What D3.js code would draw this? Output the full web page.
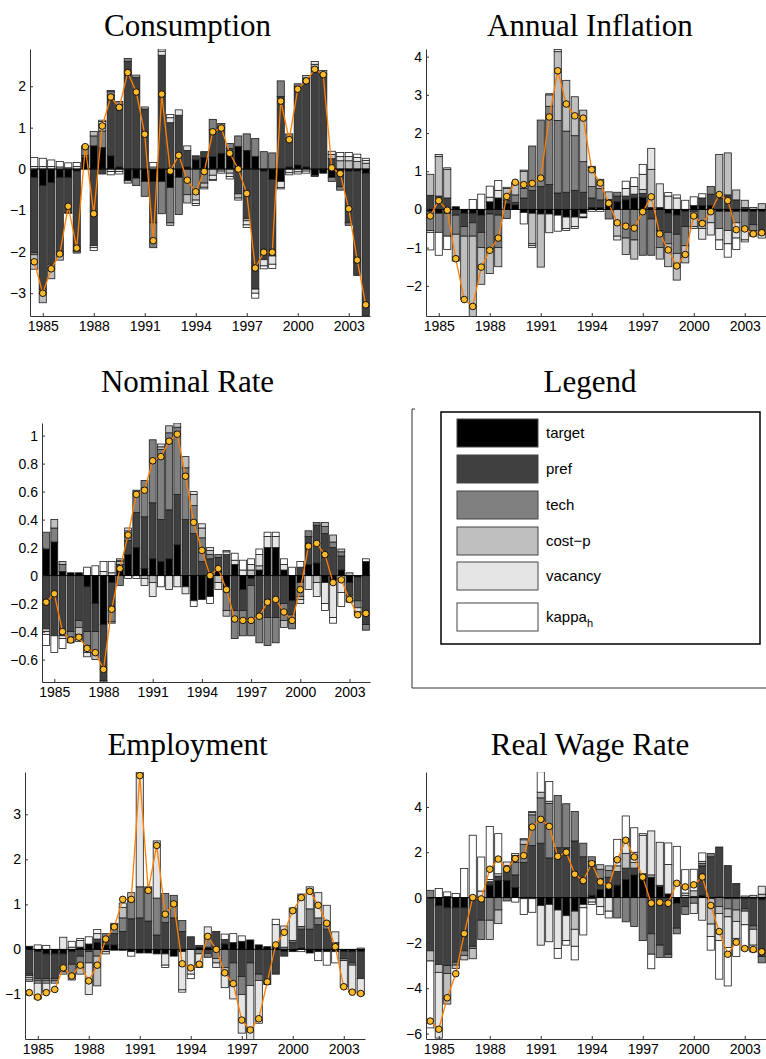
<!DOCTYPE html>
<html>
<head>
<meta charset="utf-8">
<script src="https://cdn.jsdelivr.net/npm/d3@7"></script>
<style>
body { margin: 0; background: #fff; }
svg { display: block; }
</style>
</head>
<body>
<svg id="fig" width="766" height="1059"></svg>
<script>
// semiannual dates, 1984:2 .. 2004:1
const dates = [1984.5, 1985, 1985.5, 1986, 1986.5, 1987, 1987.5, 1988, 1988.5, 1989,
               1989.5, 1990, 1990.5, 1991, 1991.5, 1992, 1992.5, 1993, 1993.5, 1994,
               1994.5, 1995, 1995.5, 1996, 1996.5, 1997, 1997.5, 1998, 1998.5, 1999,
               1999.5, 2000, 2000.5, 2001, 2001.5, 2002, 2002.5, 2003, 2003.5, 2004];
const yearTicks = [1985, 1988, 1991, 1994, 1997, 2000, 2003];
const shockNames = ["target", "pref", "tech", "cost\u2212p", "vacancy", "kappa"];
const shockColors = ["#000000", "#404040", "#808080", "#bfbfbf", "#e5e5e5", "#ffffff"];

// Consumption
const consTarget = [-.2,-.4,-.33,-.2,-.2,-.05,.28,.56,.52,.32,.05,-.28,-.22,-.3,-.3,-.3,-.45,-.2,.05,.22,.28,.3,.38,.35,.55,.45,.3,-.05,-.25,-.3,.05,.1,.05,-.15,-.1,-.2,-.05,-.05,-.05,-.1];
const consPref   = [-1.82,-2.5,-1.97,-1.8,-.85,-1.93,.05,-1.85,-.12,1.45,1.5,2.6,2.22,1.45,-1.0,2.75,1.12,1.3,.4,.1,.14,.65,.62,.15,-.6,-1.2,-2.9,-2.14,-1.85,1.75,.7,1.9,2.15,2.45,2.3,.25,-.38,-1.25,-2.52,-3.44];
const consTech   = [-.05,-.1,-.1,-.05,-.02,-.05,.2,.24,.4,.1,.08,.07,-.18,-.36,-.6,-.78,-.85,-.9,-.62,-.6,-.34,.25,.1,.12,.25,.4,.44,.42,.39,.38,.1,.06,0,-.03,0,-.1,-.08,-.06,0,0];
const consCost   = [-.35,-.23,-.25,-.15,0,0,.03,.11,.15,.03,0,-.06,.05,.05,0,0,-.06,0,-.2,-.15,-.1,-.15,-.05,-.1,-.1,-.05,0,0,0,0,0,0,.06,.08,.08,.1,.2,.2,.18,.14];
const consVac    = [.06,.06,.06,.05,.03,.06,0,-.05,.08,-.06,-.06,0,0,0,.05,.1,.12,.13,.11,-.08,-.04,-.1,-.05,-.08,-.05,-.1,-.1,-.15,-.2,-.15,-.09,-.07,-.05,.07,0,.08,.1,.1,.1,.07];
const consKappa  = [.22,.2,.16,.13,.12,.1,0,-.07,.03,-.08,-.06,0,0,0,.11,.05,.08,0,0,-.05,0,-.03,0,-.06,0,-.06,-.12,-.07,-.1,-.03,-.05,-.05,-.05,0,0,0,.1,.1,.08,.05];
const consLine   = [-2.24,-3.0,-2.41,-2.05,-.9,-1.91,.54,-1.08,1.04,1.74,1.49,2.33,1.86,.84,-1.73,1.81,-.05,.33,-.27,-.55,-.06,.9,.99,.38,0,-.59,-2.39,-2.01,-2.01,1.64,.71,1.93,2.13,2.41,2.28,.03,-.11,-.96,-2.2,-3.28];

// Annual Inflation
const inflTarget = [-.05,-.1,-.1,.07,-.1,-.1,-.15,.2,.3,.15,.12,-.08,-.1,-.12,-.12,-.15,-.2,-.2,-.1,.05,.05,.15,.2,.25,.3,.32,.05,.05,-.1,-.15,-.05,.1,.1,.1,-.05,-.05,-.05,-.05,-.05,-.05];
const inflPref   = [.37,.35,.3,-.15,-.35,-.25,-.45,-.12,-.15,.1,.06,.3,.5,.6,.65,.43,.45,.5,.45,.25,.2,.11,.15,.1,.1,.1,-.25,-.55,-.5,-.5,-.4,-.05,.2,.3,.3,.38,.25,.05,-.35,-.6];
const inflTech   = [-.5,-.5,-.6,-.5,-.25,-.35,-.4,-.9,-.85,-.24,.2,.25,1.16,1.74,2.05,1.9,1.6,1.43,.8,.3,.3,-.25,.1,-.75,-.8,-1.2,-.95,-.45,-.3,-.5,-.5,-.15,-.3,.2,-.45,-.5,-.3,-.5,-.15,0];
const inflCost   = [.55,1.04,.75,-.7,-1.65,-2.1,-.96,-.66,-.5,.3,.33,.45,-.8,-1.39,.3,1.8,1.33,1.02,1.35,.5,.24,.2,-.7,-.43,-.5,.1,1.0,-.3,-.6,-.7,-.45,-.25,-.2,-.35,1.14,1.1,.26,.19,.05,.15];
const inflVac    = [-.05,.05,.04,0,0,0,0,.12,.2,.03,0,.03,-.05,0,-.49,.06,-.3,-.25,-.1,.03,0,0,-.1,.2,.2,.4,.55,.62,.35,.3,0,-.05,-.28,-.32,-.3,-.35,-.4,-.25,-.15,-.1];
const inflKappa  = [-.46,-.6,-.35,0,0,.26,.4,.29,.26,0,0,-.3,-.05,0,.03,-.42,-.05,-.05,-.02,-.05,-.05,0,0,.19,.23,.26,0,0,.09,.08,.24,.23,.11,0,-.25,-.35,-.3,-.05,0,0];
const inflLine   = [-.17,.23,-.02,-1.29,-2.36,-2.54,-1.51,-1.07,-.75,.34,.71,.65,.68,.82,2.42,3.63,2.76,2.45,2.39,1.04,.69,.16,-.35,-.44,-.49,-.06,.33,-.64,-1.06,-1.48,-1.18,-.17,-.37,-.06,.39,.23,-.53,-.51,-.64,-.61];

// Nominal Rate
const rateTarget = [.19,.24,.03,.02,.02,-.08,-.2,-.35,-.05,.05,.15,.2,.05,.12,.1,.12,.22,-.08,-.18,-.17,-.15,.03,-.1,.08,-.1,-.02,.04,.2,.2,.04,-.18,-.05,.08,.09,-.05,-.05,.04,-.05,-.01,.1];
const ratePref   = [-.38,-.43,-.43,-.4,-.32,-.32,-.2,-.4,-.2,.03,.1,.25,.37,.4,.3,.35,.36,.4,.3,.1,.12,.1,.15,-.25,-.15,-.05,-.3,-.3,-.3,-.2,-.1,.06,.2,.27,.3,.2,.1,-.09,-.17,-.35];
const rateTech   = [.12,.1,.05,-.04,-.05,-.1,-.15,-.02,-.08,-.07,.05,.16,.26,.45,.5,.55,.48,.37,.2,.17,.03,.02,-.15,-.2,-.18,-.36,-.18,-.2,-.18,-.12,-.1,-.1,.04,.02,.05,.04,.03,-.04,-.05,-.04];
const rateCost   = [-.02,.06,.02,-.04,-.05,-.05,-.05,0,-.01,.02,.02,0,-.02,-.05,.02,.05,.03,.08,.08,.07,.03,-.05,-.04,0,0,.04,.03,0,0,-.05,0,-.02,0,-.05,.03,.05,.02,.02,0,0];
const rateVac    = [-.02,0,-.02,0,-.05,-.03,0,.03,.02,.01,.02,0,-.05,-.1,.02,-.1,-.08,-.05,.02,.03,.02,-.05,.02,.03,.04,.04,.08,.08,.08,.04,0,-.03,-.1,-.1,-.15,-.25,-.12,-.01,-.03,0];
const rateKappa  = [-.08,-.12,-.07,0,0,.06,.07,.07,.08,.01,-.02,-.02,0,0,-.08,0,0,0,-.04,0,-.05,0,.01,.05,.07,.04,.04,.03,.03,.04,.06,.04,0,0,-.05,-.04,-.1,0,-.02,.02];
const rateLine   = [-.19,-.13,-.4,-.46,-.44,-.52,-.55,-.67,-.24,.05,.29,.58,.61,.82,.85,.96,1.01,.71,.38,.18,0,.05,-.1,-.31,-.32,-.32,-.29,-.19,-.17,-.26,-.32,-.1,.21,.23,.15,-.05,-.03,-.17,-.28,-.27];

// Employment
const emplTarget = [.07,-.05,-.1,-.1,-.1,-.05,.05,.12,.15,.1,.1,-.02,-.05,-.08,-.08,-.1,-.1,-.15,-.05,0,.05,.05,.05,.12,.15,.18,.21,.1,.06,.05,-.05,-.05,.03,-.08,-.05,-.05,-.05,-.05,-.05,-.05];
const emplPref   = [-.55,-.6,-.55,-.55,-.3,-.28,-.15,-.05,.08,.1,.25,.4,.68,.7,.63,.32,.6,.7,.4,.28,.04,-.1,.35,.1,-.3,-.6,-.3,-.55,-.78,-.55,-.1,.15,.42,.45,.55,.45,.12,-.15,-.25,-.6];
const emplTech   = [-.03,-.05,-.05,-.05,-.1,-.25,-.25,-.25,-.15,.15,.15,.3,.4,.69,.76,.82,.64,.5,.24,0,-.1,.25,-.2,-.4,-.5,-.4,-.5,-.14,0,0,.05,.05,.06,.45,.15,.15,.03,-.05,-.05,0];
const emplCost   = [-.05,-.05,-.05,-.05,-.05,-.1,-.15,0,-.66,-.05,.05,.23,.18,0,0,0,0,0,0,0,0,-.05,-.1,-.15,0,0,0,0,0,0,0,0,0,0,0,0,0,0,0,.03];
const emplVac    = [-.05,-.35,-.2,0,.27,.05,.15,-.7,.12,-.05,.03,.1,0,2.55,0,1.27,-.25,0,-.85,-.55,-.3,.2,-.1,-.3,-.3,-.86,-1.3,-.95,0,.5,.47,.72,.72,.49,.56,.38,.24,-.58,-.6,-.36];
const emplKappa  = [-.03,.1,.09,0,0,.13,.04,.16,.09,0,-.02,0,-.1,0,0,0,-.05,0,-.05,-.1,0,-.03,0,.12,.2,.12,0,0,0,.12,0,0,-.05,0,-.2,-.3,-.25,0,0,0];
const emplLine   = [-.96,-1.06,-.96,-.89,-.41,-.59,-.35,-.7,-.35,.23,.5,1.11,1.11,3.86,1.31,2.31,.78,1.01,-.32,-.41,-.33,.29,0,-.52,-.76,-1.57,-1.79,-1.54,-.72,.1,.38,.86,1.15,1.29,.98,.58,.06,-.83,-.95,-.98];

// Real Wage Rate
const wageTarget = [-.05,-.35,-.45,-.45,-.45,-.05,0,.55,.75,.75,.45,-.05,-.05,-.35,-.3,-.55,-.8,-.6,-.3,.1,.35,.5,.55,.8,1.0,.95,.9,.5,.16,-.25,0,.05,.1,-.05,.03,-.05,-.05,-.05,-.05,-.1];
const wagePref   = [-2.3,-2.6,-2.55,-2.4,-1.9,-2.1,-1.0,.15,.2,.5,.55,1.55,2.3,2.4,1.75,2.2,2.2,2.5,1.8,1.5,.5,.4,.6,.5,.3,.1,-1.6,-2.1,-2.5,-1.1,-.4,0,1.3,1.8,2.2,1.41,.62,-.45,-1.2,-2.5];
const wageTech   = [.32,0,-.35,-.13,-.2,-.1,-.85,-1.0,-.55,-.15,.55,.8,1.35,2.0,2.4,2.3,1.94,1.3,.6,.2,.4,.3,-.9,-1.07,-1.28,-1.9,-.9,-.55,-.15,-.25,-.35,-.25,.1,.14,-.4,-.45,-.5,-.1,-.15,-.28];
const wageCost   = [-.45,-.35,-1.35,-.15,-.2,-.45,0,-.85,-.6,.17,.3,.2,.1,.25,.1,0,0,-.8,0,-.05,.2,.2,.25,.65,.25,0,.1,.04,0,0,.1,.25,.1,-1.12,-.3,-.35,-.5,.07,.1,.15];
const wageVac    = [0,-2.9,.05,0,0,0,.29,.1,.1,.15,.09,.05,.05,-1.75,-1.65,-1.7,-1.1,-.75,-.15,-.15,-.4,-.6,.3,.6,.45,1.7,1.94,1.9,1.3,0,.1,-.45,-1.0,-.55,-1.2,-1.35,-.75,-.6,-.7,.35];
const wageKappa  = [-2.95,.4,.2,.18,1.28,2.75,1.5,2.34,1.77,0,-.2,-.7,-.6,.9,.87,-.43,-.2,-.6,-1.2,-.1,-.35,-.3,.87,1.05,1.08,.07,-.64,0,.95,2.26,1.03,.95,.37,-.6,-1.7,-1.7,-.8,-1.12,-.3,0];
const wageLine   = [-5.45,-5.81,-4.42,-3.36,-1.59,0,-.06,1.25,1.7,1.25,1.72,1.85,3.11,3.45,3.14,1.82,2.0,1.03,.75,1.5,.69,.51,1.67,2.53,1.79,.9,-.25,-.21,-.25,.63,.47,.56,.91,-.35,-1.5,-2.5,-1.97,-2.25,-2.29,-2.39];

const panels = [
  { title: "Consumption", comps: [consTarget, consPref, consTech, consCost, consVac, consKappa], line: consLine,
    box: [30, 49, 370, 316], yDomain: [-3.55, 2.9], yTicks: [-3, -2, -1, 0, 1, 2], tx: 187.5, ty: 36 },
  { title: "Annual Inflation", comps: [inflTarget, inflPref, inflTech, inflCost, inflVac, inflKappa], line: inflLine,
    box: [426, 49, 766, 316], yDomain: [-2.79, 4.2], yTicks: [-2, -1, 0, 1, 2, 3, 4], tx: 590, ty: 36 },
  { title: "Nominal Rate", comps: [rateTarget, ratePref, rateTech, rateCost, rateVac, rateKappa], line: rateLine,
    box: [42, 423, 370, 682], yDomain: [-0.76, 1.09], yTicks: [-0.6, -0.4, -0.2, 0, 0.2, 0.4, 0.6, 0.8, 1], tx: 187.5, ty: 392 },
  { title: "Employment", comps: [emplTarget, emplPref, emplTech, emplCost, emplVac, emplKappa], line: emplLine,
    box: [25, 772, 365, 1039], yDomain: [-1.99, 3.94], yTicks: [-1, 0, 1, 2, 3], tx: 187.5, ty: 755 },
  { title: "Real Wage Rate", comps: [wageTarget, wagePref, wageTech, wageCost, wageVac, wageKappa], line: wageLine,
    box: [426, 772, 766, 1039], yDomain: [-6.24, 5.54], yTicks: [-6, -4, -2, 0, 2, 4], tx: 590, ty: 755 }
];

const svg = d3.select("#fig");
const defs = svg.append("defs");
const fmt = v => String(Math.round(v * 10) / 10).replace("-", "\u2212");

panels.forEach((p, pi) => {
  let [x0, y0, x1, y1] = p.box;
  let x = d3.scaleLinear().domain([1984.25, 2004.25]).range([x0, x1]);
  let y = d3.scaleLinear().domain(p.yDomain).range([y1, y0]);
  let halfW = 0.21;

  defs.append("clipPath").attr("id", "clip" + pi)
    .append("rect").attr("x", x0).attr("y", y0).attr("width", x1 - x0).attr("height", y1 - y0);

  let g = svg.append("g");
  let plot = g.append("g").attr("clip-path", "url(#clip" + pi + ")");

  // stack positives up and negatives down, shock order outward from zero
  let segs = [];
  dates.forEach((d, i) => {
    let up = 0, down = 0;
    p.comps.forEach((arr, k) => {
      let v = arr[i];
      if (v === 0) return;
      let a, b;
      if (v > 0) { a = up; up += v; b = up; }
      else { a = down; down += v; b = down; }
      segs.push({ d: d, k: k, a: a, b: b });
    });
  });

  plot.selectAll("rect.seg").data(segs).enter().append("rect")
    .attr("class", "seg")
    .attr("x", s => x(s.d - halfW))
    .attr("width", s => x(s.d + halfW) - x(s.d - halfW))
    .attr("y", s => y(Math.max(s.a, s.b)))
    .attr("height", s => Math.abs(y(s.a) - y(s.b)))
    .attr("fill", s => shockColors[s.k])
    .attr("stroke", "#1c1c1c")
    .attr("stroke-width", 0.8);

  plot.append("line")
    .attr("x1", x0).attr("x2", x1)
    .attr("y1", y(0)).attr("y2", y(0))
    .attr("stroke", "#000").attr("stroke-width", 0.9);

  let lineGen = d3.line().x((v, i) => x(dates[i])).y(v => y(v));
  plot.append("path").datum(p.line)
    .attr("d", lineGen)
    .attr("fill", "none")
    .attr("stroke", "#ff8000")
    .attr("stroke-width", 1.3);

  plot.selectAll("circle").data(p.line).enter().append("circle")
    .attr("cx", (v, i) => x(dates[i]))
    .attr("cy", v => y(v))
    .attr("r", 3.3)
    .attr("fill", "#fbb92c")
    .attr("stroke", "#000")
    .attr("stroke-width", 0.9);

  // axes, ticks pointing inward
  let xAxis = d3.axisBottom(x).tickValues(yearTicks).tickFormat(d3.format("d"))
    .tickSizeInner(-3).tickSizeOuter(0).tickPadding(5);
  let yAxis = d3.axisLeft(y).tickValues(p.yTicks).tickFormat(fmt)
    .tickSizeInner(-3).tickSizeOuter(0).tickPadding(4);

  let gx = g.append("g").attr("transform", "translate(0," + y1 + ")").call(xAxis);
  let gy = g.append("g").attr("transform", "translate(" + x0 + ",0)").call(yAxis);
  [gx, gy].forEach(a => {
    a.selectAll("path.domain").attr("stroke", "#333").attr("stroke-width", 1);
    a.selectAll(".tick line").attr("stroke", "#333");
    a.selectAll("text").attr("fill", "#000")
      .style("font-family", "'Liberation Sans', Arial, sans-serif").style("font-size", "14px");
  });

  svg.append("text")
    .attr("x", p.tx).attr("y", p.ty)
    .attr("text-anchor", "middle")
    .style("font-family", "'Liberation Serif', 'Times New Roman', serif")
    .style("font-size", "31px")
    .text(p.title);
});

// legend panel
svg.append("text")
  .attr("x", 590).attr("y", 392)
  .attr("text-anchor", "middle")
  .style("font-family", "'Liberation Serif', 'Times New Roman', serif")
  .style("font-size", "31px")
  .text("Legend");

svg.append("path")
  .attr("d", "M415,409H412V688H766")
  .attr("fill", "none").attr("stroke", "#333").attr("stroke-width", 1);

svg.append("rect")
  .attr("x", 441).attr("y", 412).attr("width", 319).attr("height", 232)
  .attr("fill", "#fff").attr("stroke", "#000").attr("stroke-width", 1.5);

const legendTops = [419, 455, 491, 527, 562, 603];
const leg = svg.append("g").selectAll("g").data(shockNames).enter().append("g");
leg.append("rect")
  .attr("x", 457).attr("y", (d, i) => legendTops[i])
  .attr("width", 81).attr("height", 28)
  .attr("fill", (d, i) => shockColors[i])
  .attr("stroke", "#444").attr("stroke-width", 1);
leg.append("text")
  .attr("x", 546).attr("y", (d, i) => legendTops[i] + 19)
  .style("font-family", "'Liberation Sans', Arial, sans-serif")
  .style("font-size", "15px")
  .each(function (d, i) {
    let t = d3.select(this);
    if (d === "kappa") {
      t.append("tspan").text("kappa");
      t.append("tspan").attr("dy", 5).style("font-size", "11px").text("h");
    } else {
      t.text(d);
    }
  });
</script>
</body>
</html>
